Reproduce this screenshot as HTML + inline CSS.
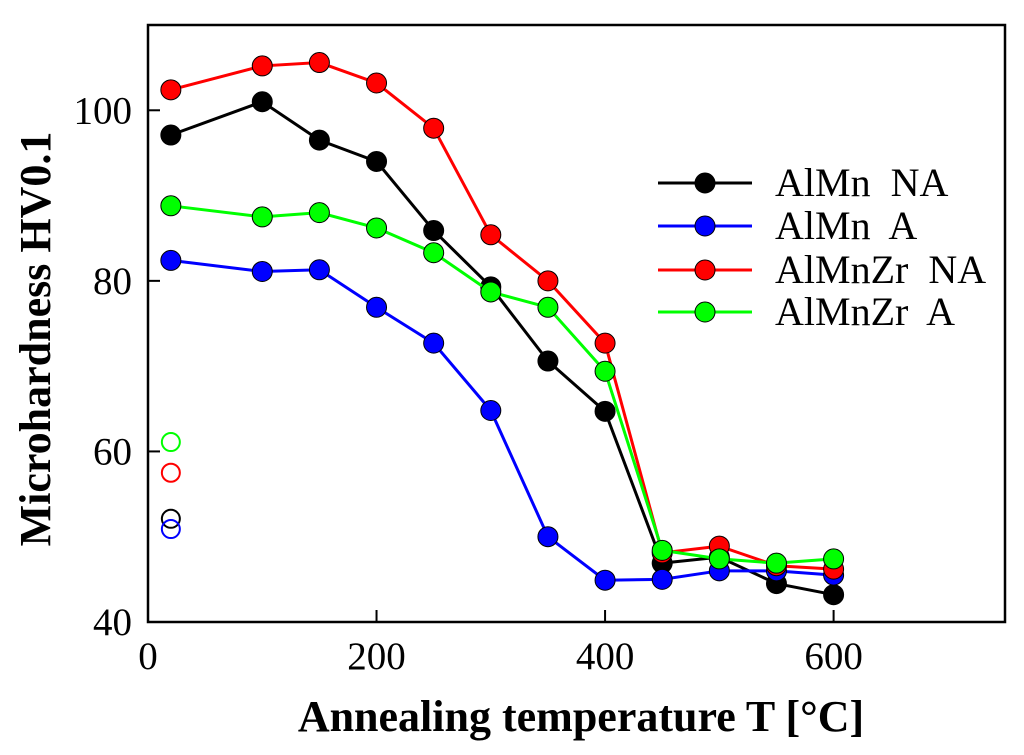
<!DOCTYPE html>
<html><head><meta charset="utf-8"><style>
body{margin:0;background:#fff;}
svg{display:block;font-family:"Liberation Serif",serif;}
</style></head><body>
<svg id="chart" width="1024" height="755">
<rect x="148" y="25" width="857" height="597" fill="none" stroke="#000" stroke-width="2.5"/>
<g id="ticks"></g>
<g id="series"></g>
<text x="581" y="731" text-anchor="middle" font-size="44" font-weight="bold">Annealing temperature T [°C]</text>
<text transform="translate(50,339) rotate(-90)" text-anchor="middle" font-size="44" font-weight="bold">Microhardness HV0.1</text>
<g id="legend"></g>
</svg>
<script>
const temps=[20,100,150,200,250,300,350,400,450,500,550,600];
const alMnNA=[97.1,101,96.5,94,85.9,79.3,70.6,64.7,46.9,47.6,44.5,43.2];
const alMnA=[82.4,81.1,81.3,76.9,72.7,64.8,50,44.9,45,46,46,45.5];
const alMnZrNA=[102.4,105.2,105.6,103.2,97.9,85.4,80,72.7,48.1,48.9,46.6,46.2];
const alMnZrA=[88.8,87.5,88,86.2,83.3,78.7,76.9,69.4,48.4,47.4,46.9,47.4];
const asCastT=[20,20,20,20];
const asCastV=[52.1,50.9,57.5,61.1];
const xTicks=[0,200,400,600];
const yTicks=[40,60,80,100];
const seriesNames=["AlMn  NA","AlMn  A","AlMnZr  NA","AlMnZr  A"];
const colors=["#000","#00f","#f00","#0f0"];
const NS="http://www.w3.org/2000/svg";
const X=v=>148+(v-0)*(857/750);
const Y=v=>622-(v-40)*(597/70);
function mk(t,a,p){const e=document.createElementNS(NS,t);for(const k in a)e.setAttribute(k,a[k]);p.appendChild(e);return e;}
const tg=document.getElementById('ticks');
xTicks.forEach(v=>{const l=mk('line',{x1:X(v),x2:X(v),y1:622,y2:610,stroke:'#000','stroke-width':2},tg);


const t=mk('text',{x:X(v),y:669,'text-anchor':'middle','font-size':39},tg);t.textContent=v;

});
yTicks.forEach(v=>{const l=mk('line',{x1:148,x2:160,y1:Y(v),y2:Y(v),stroke:'#000','stroke-width':2},tg);


const t=mk('text',{x:132,y:Y(v)+13,'text-anchor':'end','font-size':39},tg);t.textContent=v;

});
const sg=document.getElementById('series');
const all=[alMnNA,alMnA,alMnZrNA,alMnZrA];
all.forEach((d,i)=>{
const p=mk('polyline',{points:d.map((v,j)=>X(temps[j])+','+Y(v)).join(' '),fill:'none',stroke:colors[i],'stroke-width':3},sg);


d.forEach((v,j)=>{const c=mk('circle',{cx:X(temps[j]),cy:Y(v),r:10,fill:colors[i],stroke:'#000','stroke-width':1},sg);

});});
asCastV.forEach((v,i)=>{const c=mk('circle',{cx:X(asCastT[i]),cy:Y(v),r:9,fill:'none',stroke:colors[i],'stroke-width':2},sg);

});
const lg=document.getElementById('legend');
const ly=[183,226,270,312];
seriesNames.forEach((n,i)=>{
const g=mk('g',{},lg);


mk('line',{x1:658,x2:752,y1:ly[i],y2:ly[i],stroke:colors[i],'stroke-width':3},g);
mk('circle',{cx:705,cy:ly[i],r:10,fill:colors[i],stroke:'#000','stroke-width':1},g);
const t=mk('text',{x:775,y:ly[i]+13,'font-size':40},g);t.textContent=n;t.style.whiteSpace='pre';});
</script>
</body></html>
